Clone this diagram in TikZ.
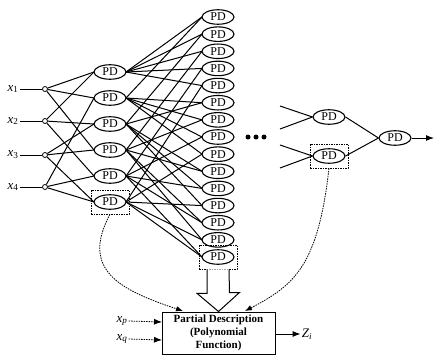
\documentclass[tikz,border=0pt]{standalone}
\usepackage{fontspec}
\setmainfont{Liberation Serif}
\usetikzlibrary{arrows.meta,shapes.geometric}
\begin{document}
\begin{tikzpicture}[x=1pt,y=-1pt,
  pd/.style={draw, ellipse, line width=1.1pt, fill=white, minimum width=32pt,
    minimum height=14.5pt, inner sep=0pt, font=\fontsize{12}{12}\selectfont},
  wire/.style={line width=1pt},
  tap/.style={draw, circle, line width=0.8pt, fill=white, inner sep=0pt, minimum size=5pt},
  dbox/.style={draw, densely dashed, dash pattern=on 1.5pt off 1pt, line width=0.7pt,
    minimum width=38pt, minimum height=24pt},
  dcurve/.style={dash pattern=on 1.5pt off 1pt, line width=0.8pt, -{Latex[length=7pt,width=5.5pt]}},
  arr/.style={line width=1pt, -{Latex[length=8pt,width=6pt]}},
  lbl/.style={font=\fontsize{13}{13}\selectfont, inner sep=1pt}]
\useasboundingbox (0,0) rectangle (434,359);

% inputs
\foreach \i/\y in {1/89,2/121,3/155,4/187}{
  \node[lbl] (x\i) at (13,\y) {\textit{x}\textsubscript{\i}};
  \node[tap] (c\i) at (45,\y) {};
  \draw[wire] (x\i.east) -- (c\i);
}

% first layer of partial descriptions
\foreach \i/\y in {1/72,2/98,3/124,4/150,5/176,6/202}{
  \coordinate (L\i p) at (110,\y);
}
% second layer
\foreach \k in {1,...,15}{
  \coordinate (M\k p) at (218,{17+(\k-1)*17.143});
}

% input to first layer
\foreach \c/\l in {1/1,1/2,1/4,2/1,2/3,2/5,3/3,3/4,3/6,4/2,4/5,4/6}{
  \draw[wire] (c\c) -- ([xshift=-16pt]L\l p);
}
% first layer to second layer
\foreach \a/\b [count=\k] in {1/2,1/3,1/4,1/5,1/6,2/3,2/4,2/5,2/6,3/4,3/5,3/6,4/5,4/6,5/6}{
  \draw[wire] ([xshift=16pt]L\a p) -- ([xshift=-16pt]M\k p);
  \draw[wire] ([xshift=16pt]L\b p) -- ([xshift=-16pt]M\k p);
}

\foreach \i in {1,...,6}{ \node[pd] (L\i) at (L\i p) {PD}; }
\foreach \k in {1,...,15}{ \node[pd] (M\k) at (M\k p) {PD}; }

\node[dbox] (B1) at (L6) {};
\node[dbox] (B2) at (M15) {};

% continuation dots
\foreach \x in {248,256,264}{ \fill (\x,137) circle (2.5pt); }

% last layers
\node[pd] (R1) at (329,117) {PD};
\node[pd] (R2) at (329,156) {PD};
\node[pd] (F) at (395,138) {PD};
\node[dbox] (B3) at (R2) {};
\coordinate (a1) at (280,106);
\coordinate (a2) at (280,129);
\coordinate (a3) at (280,145);
\coordinate (a4) at (280,168);
\coordinate (out) at (434,138);
\draw[wire] (a1) -- (R1.west);
\draw[wire] (a2) -- (R1.west);
\draw[wire] (a3) -- (R2.west);
\draw[wire] (a4) -- (R2.west);
\draw[wire] (R1.east) -- (F.west);
\draw[wire] (R2.east) -- (F.west);
\draw[arr] (F.east) -- (out);

% partial description block
\node[draw, line width=1pt, minimum width=113pt, minimum height=42pt, align=center,
  inner sep=0pt, font=\fontsize{11}{13}\selectfont\bfseries] (P) at (218.5,333)
  {Partial Description\\(Polynomial\\Function)};

% hollow arrow from the selected node down to the block
\draw[line width=1pt, fill=white, line join=miter]
  ([xshift=-11pt]B2.south) -- ++(0,24) -- ++(-10,0) -- (P.north)
  -- ++(21,-19) -- ++(-10,0) -- ([xshift=11pt]B2.south);

% dashed pointers
\coordinate (t1) at (183,311);
\coordinate (t2) at (245,311);
\draw[dcurve] (B1.south) .. controls (80,270) and (120,290) .. (t1);
\draw[dcurve] (B3.south) .. controls (318,265) and (295,285) .. (t2);

% block inputs and output
\node[lbl] (xp) at (122,321) {\textit{x}\textsubscript{\textit{p}}};
\node[lbl] (xq) at (122,339) {\textit{x}\textsubscript{\textit{q}}};
\coordinate (pp) at (162,322);
\coordinate (pq) at (162,340);
\draw[dash pattern=on 1.5pt off 1pt, line width=0.8pt, -{Latex[length=8pt,width=6pt]}] (xp.east) -- (pp);
\draw[dash pattern=on 1.5pt off 1pt, line width=0.8pt, -{Latex[length=8pt,width=6pt]}] (xq.east) -- (pq);
\node[lbl] (z) at (307,334) {\textit{Z}\textsubscript{\textit{i}}};
\draw[arr] (P.east |- z) -- (z.west);
\end{tikzpicture}
\end{document}
